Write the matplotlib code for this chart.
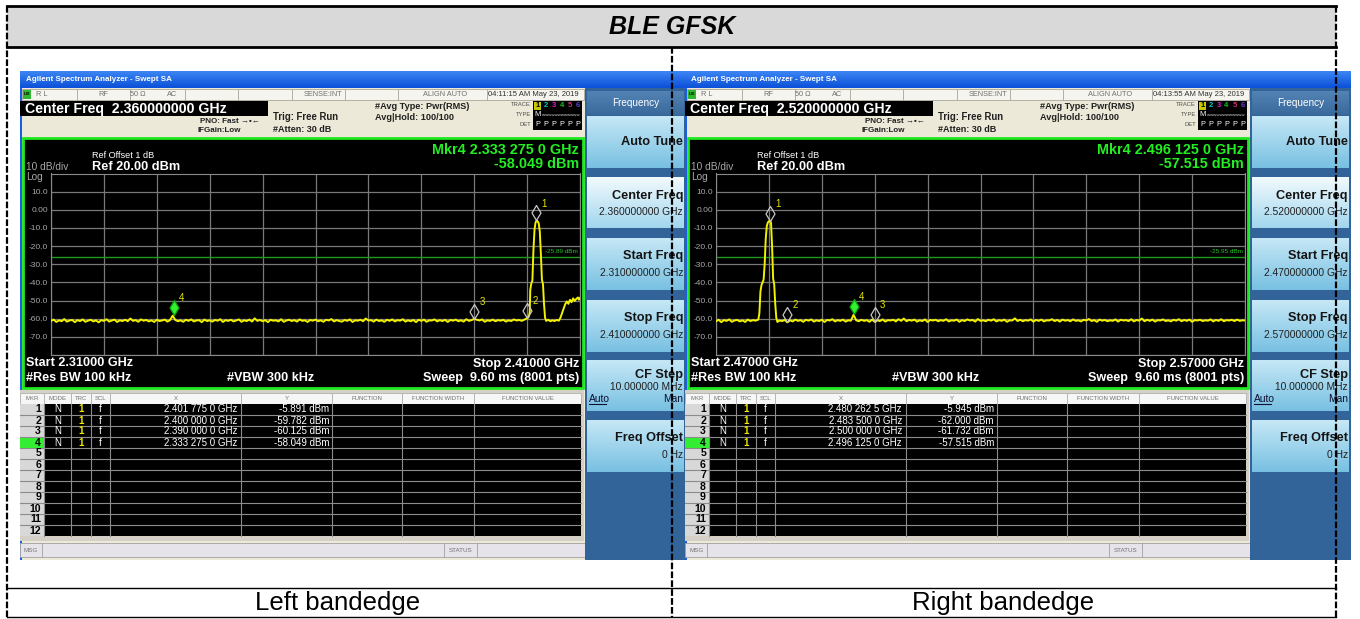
import numpy as np
import matplotlib
matplotlib.use("Agg")
import matplotlib.pyplot as plt
from matplotlib.patches import Rectangle
from matplotlib.path import Path
from matplotlib.colors import LinearSegmentedColormap

plt.rcParams['font.family'] = ['Liberation Sans', 'DejaVu Sans']

title = "BLE GFSK"
captions = ["Left bandedge", "Right bandedge"]

left_span = (2.310, 2.410)          # GHz
left_time = "04:11:15 AM May 23, 2019"
left_limit = -25.89                 # dBm display line
left_mkr_freq = [2.401775, 2.400000, 2.390000, 2.333275]
left_mkr_db = [-5.891, -59.782, -60.125, -58.049]
# noise floor 2.3100 .. 2.3995 GHz, one value per 0.5 MHz
left_floor_db = [
    -61.2, -60.5, -61.8, -60.9, -61.4, -60.2, -61.6, -61.0, -60.7, -61.9,
    -60.8, -61.3, -60.4, -61.7, -61.1, -60.6, -61.5, -60.9, -62.0, -60.8,
    -61.2, -60.3, -61.6, -61.0, -60.5, -61.8, -60.9, -61.3, -60.6, -61.4,
    -59.9, -61.2, -60.8, -61.7, -60.4, -61.1, -60.7, -61.5, -60.9, -61.8,
    -60.6, -61.3, -61.0, -60.5, -61.6, -60.8, -58.3, -60.7, -61.4, -60.9,
    -61.7, -60.6, -61.2, -60.4, -61.5, -61.0, -60.8, -61.9, -60.5, -61.3,
    -60.9, -61.6, -60.7, -61.1, -60.3, -61.8, -60.8, -61.2, -60.6, -61.5,
    -61.0, -60.4, -61.7, -60.9, -61.3, -60.5, -61.6, -59.8, -61.2, -60.7,
    -61.4, -60.8, -61.9, -60.6, -61.1, -60.9, -61.5, -60.3, -61.7, -61.0,
    -60.6, -61.3, -60.8, -61.6, -60.4, -61.2, -60.9, -61.8, -60.7, -61.1,
    -60.5, -61.4, -60.9, -61.7, -60.6, -61.0, -60.2, -61.5, -60.8, -61.3,
    -61.6, -60.7, -61.2, -60.4, -61.8, -60.9, -61.1, -60.6, -61.4, -59.9,
    -61.0, -60.8, -61.6, -60.5, -61.3, -60.9, -61.7, -60.6, -61.2, -60.4,
    -61.5, -60.8, -61.1, -60.3, -61.6, -60.9, -61.4, -60.7, -61.9, -60.6,
    -61.2, -60.5, -61.7, -60.9, -61.0, -60.4, -61.5, -60.8, -61.3, -60.6,
    -61.8, -60.7, -61.1, -60.5, -61.4, -60.9, -61.6, -60.3, -61.2, -60.8,
    -60.1, -60.6, -61.0, -60.4, -61.7, -60.9, -61.2, -60.5, -61.4, -60.8,
    -61.1, -60.6, -61.6, -60.9, -61.3, -60.4, -61.0, -60.7, -61.2, -60.5,
]
left_edge_freq = [2.4000, 2.4003, 2.4005, 2.4006, 2.4008, 2.4010, 2.4012, 2.4014,
                  2.4016, 2.4018, 2.4020, 2.4022, 2.4024, 2.4026, 2.4028, 2.4030,
                  2.4032, 2.4034, 2.4036, 2.4040, 2.4044, 2.4048, 2.4052, 2.4056,
                  2.4060, 2.4063, 2.4066, 2.4069, 2.4072, 2.4075, 2.4078, 2.4081,
                  2.4084, 2.4087, 2.4090, 2.4093, 2.4096, 2.4098, 2.4100]
left_edge_db = [-59.8, -59.0, -56.5, -44.0, -40.5, -39.0, -22.0, -11.0,
                -7.0, -5.9, -6.4, -7.5, -12.0, -24.0, -38.5, -41.0,
                -52.0, -59.5, -61.2, -60.6, -61.4, -60.9, -61.3, -60.7,
                -61.1, -59.5, -57.0, -54.5, -52.0, -50.5, -51.8, -49.6,
                -50.9, -48.8, -50.2, -49.1, -48.3, -49.5, -48.6]

right_span = (2.470, 2.570)
right_time = "04:13:55 AM May 23, 2019"
right_limit = -25.95
right_mkr_freq = [2.4802625, 2.4835, 2.5000, 2.496125]
right_mkr_db = [-5.945, -62.000, -61.732, -57.515]
# 2.4700 .. 2.4775 GHz
right_floor_lo_db = [-61.4, -60.6, -61.9, -60.8, -61.2, -60.4, -61.7, -61.0,
                     -60.7, -61.5, -60.9, -61.8, -60.5, -61.3, -60.8, -61.1]
right_edge_freq = [2.4780, 2.4782, 2.4784, 2.4786, 2.4788, 2.4790, 2.4792, 2.4794,
                   2.4796, 2.4798, 2.4800, 2.4802, 2.4804, 2.4806, 2.4808, 2.4810,
                   2.4812, 2.4814, 2.4816, 2.4820]
right_edge_db = [-60.5, -57.0, -45.0, -41.5, -40.0, -38.5, -30.0, -16.0,
                 -9.0, -7.0, -6.3, -5.95, -7.2, -20.0, -38.0, -41.0,
                 -52.0, -59.5, -61.8, -61.0]
# 2.4825 .. 2.5700 GHz
right_floor_hi_db = [
    -61.3, -60.7, -62.0, -60.9, -61.5, -60.5, -61.2, -60.8, -61.7, -60.6,
    -61.1, -60.4, -61.6, -60.9, -61.3, -60.6, -61.8, -60.7, -61.0, -60.3,
    -61.5, -60.8, -61.2, -60.5, -61.6, -60.9, -61.1, -57.8, -60.9, -61.4,
    -60.6, -61.2, -60.8, -61.7, -60.5, -61.7, -60.9, -61.3, -60.4, -61.6,
    -60.8, -61.0, -60.6, -61.5, -60.3, -61.2, -59.9, -61.4, -60.7, -61.1,
    -60.5, -61.6, -60.9, -61.3, -60.4, -61.8, -60.7, -61.0, -60.6, -61.4,
    -60.8, -61.2, -60.3, -61.5, -60.9, -61.1, -60.5, -61.7, -60.8, -61.3,
    -60.4, -61.0, -60.7, -61.6, -60.2, -61.2, -60.9, -61.4, -60.6, -61.1,
    -60.3, -61.5, -60.8, -61.2, -60.5, -61.7, -60.9, -61.0, -59.8, -61.3,
    -60.6, -61.4, -60.8, -61.1, -60.4, -61.6, -60.7, -61.2, -60.5, -61.5,
    -60.9, -61.0, -60.3, -61.3, -60.7, -61.6, -60.5, -61.1, -60.8, -61.4,
    -60.4, -61.2, -60.9, -61.5, -60.6, -61.0, -60.2, -61.3, -60.8, -61.7,
    -60.5, -61.1, -60.7, -61.4, -60.9, -61.2, -60.4, -61.6, -60.6, -61.0,
    -60.8, -61.3, -60.3, -61.5, -60.7, -61.1, -59.9, -61.4, -60.6, -61.2,
    -60.5, -61.6, -60.8, -61.0, -60.4, -61.3, -60.9, -61.5, -60.6, -61.1,
    -60.3, -61.4, -60.7, -61.2, -60.5, -61.7, -60.8, -61.0, -60.6, -61.3,
    -60.9, -61.1, -60.4, -61.5, -60.7, -61.2, -60.3, -61.4, -60.8, -61.0,
    -60.6, -61.3, -60.5, -61.2, -60.9, -61.0,
]

left_f = np.concatenate([2.310 + 0.0005 * np.arange(len(left_floor_db)), left_edge_freq])
left_db = np.concatenate([left_floor_db, left_edge_db])
right_f = np.concatenate([2.470 + 0.0005 * np.arange(len(right_floor_lo_db)), right_edge_freq,
                          2.4825 + 0.0005 * np.arange(len(right_floor_hi_db))])
right_db = np.concatenate([right_floor_lo_db, right_edge_db, right_floor_hi_db])

W, H = 1360, 619
fig = plt.figure(figsize=(13.6, 6.19), dpi=100)
bg = fig.add_axes([0, 0, 1, 1])
bg.axis('off')


def box(x, y, w, h, fc, ec='none', lw=0, z=1):
    bg.add_patch(Rectangle((x, y), w, h, facecolor=fc, edgecolor=ec, linewidth=lw, zorder=z))


def txt(x, y, s, size=7, color='black', ha='left', weight='normal', z=5, **kw):
    bg.text(x, y, s, fontsize=size, color=color, ha=ha, va='center',
            fontweight=weight, zorder=z, **kw)


def gradient(x, y, w, h, c_top, c_bot, z=2):
    cmap = LinearSegmentedColormap.from_list('g', [c_top, c_bot])
    bg.imshow(np.linspace(0, 1, 64).reshape(-1, 1), cmap=cmap, aspect='auto',
              extent=[x, x + w, y + h, y], zorder=z, interpolation='bilinear')


def ghz_str(f):
    s = f"{f:.7f}"
    return s[:5] + " " + s[5:8] + " " + s[8:] + " GHz"


diamond = Path([(0, 0), (0.6, 1), (0, 2), (-0.6, 1), (0, 0)],
               [Path.MOVETO, Path.LINETO, Path.LINETO, Path.LINETO, Path.CLOSEPOLY])


def draw_screen(ox, span, time_s, limit, mkr_f, mkr_db, f, db):
    start, stop = span
    center = (start + stop) / 2

    def X(x):
        return x + ox

    # window + title bar
    box(X(20), 71, 666, 489, '#ece9d8')
    gradient(X(20), 71, 666, 17, '#3d86f4', '#0b50d8')
    txt(X(26), 79.5, "Agilent Spectrum Analyzer - Swept SA", 5.8, 'white', weight='bold', z=4)
    box(X(20), 88, 2, 472, '#1a5ee6', z=2)

    # status row
    box(X(22), 89, 562, 11, '#f6f4ee', ec='#a8a498', lw=0.6, z=2)
    for sx in [77, 130, 185, 238, 292, 345, 398, 487]:
        bg.plot([X(sx), X(sx)], [89, 100], color='#a8a498', lw=0.6, zorder=3)
    box(X(22.5), 90, 8, 8.5, '#2fb52f', z=3)
    txt(X(26.5), 94.3, "LXI", 3, 'black', ha='center', weight='bold')
    for s, x, ha in [("R L", 36, 'left'), ("RF", 103, 'center'), ("50 Ω", 138, 'center'),
                     ("AC", 172, 'center'), ("SENSE:INT", 323, 'center'),
                     ("ALIGN AUTO", 445, 'center')]:
        txt(X(x), 94.5, s, 5.3, '#707070', ha=ha)
    txt(X(488), 94.5, time_s, 5.5, '#303030')

    # settings area
    box(X(20), 101, 248, 15, 'black', z=2)
    txt(X(25), 108.7, f"Center Freq  {center:.9f} GHz", 10.2, 'white', weight='bold')
    txt(X(200), 121.5, "PNO: Fast →•←", 5.8, '#202020', weight='bold')
    txt(X(197), 131, "IFGain:Low", 5.8, '#202020', weight='bold')
    txt(X(273), 117.5, "Trig: Free Run", 6.9, '#202020', weight='bold')
    txt(X(273), 129.5, "#Atten: 30 dB", 6.5, '#202020', weight='bold')
    txt(X(375), 106.5, "#Avg Type: Pwr(RMS)", 6.6, '#202020', weight='bold')
    txt(X(375), 117.5, "Avg|Hold: 100/100", 6.6, '#202020', weight='bold')
    for s, y in [("TRACE", 105), ("TYPE", 114.5), ("DET", 124)]:
        txt(X(531), y, s, 4.2, '#505050', ha='right')
    box(X(533), 101, 49, 29, 'black', z=2)
    trace_cols = ['black', '#00c8c8', '#d020d0', '#20c020', '#d03070', '#6040d0']
    for k in range(6):
        xk = X(537.5 + k * 8)
        if k == 0:
            box(xk - 3.5, 101.5, 7, 8, '#c8c800', z=3)
        txt(xk, 105.5, str(k + 1), 5.5, trace_cols[k], ha='center', weight='bold')
        txt(xk, 124.5, "P", 5.3, 'white', ha='center')
    txt(X(537.5), 115, "M", 5.5, 'white', ha='center')
    txt(X(542), 115, "wwwwwwwwwwww", 3.2, '#d0d0d0')

    # graticule frame
    box(X(23), 138, 560, 250, 'black', ec='#1ee81e', lw=2, z=2)
    txt(X(26), 166.7, "10 dB/div", 7.3, '#a8a8a8')
    txt(X(26), 176.5, "Log", 7.3, '#a8a8a8')
    txt(X(92), 155.7, "Ref Offset 1 dB", 6.6, 'white')
    txt(X(92), 166.7, "Ref 20.00 dBm", 9.2, 'white', weight='bold')
    txt(X(579), 149.5, "Mkr4 " + ghz_str(mkr_f[3]), 10.4, '#22ee22', ha='right', weight='bold')
    txt(X(579), 163.5, f"{mkr_db[3]:.3f} dBm", 10.4, '#22ee22', ha='right', weight='bold')
    txt(X(26), 363.5, f"Start {start:.5f} GHz", 9.1, 'white', weight='bold')
    txt(X(26), 378, "#Res BW 100 kHz", 9.1, 'white', weight='bold')
    txt(X(227), 378, "#VBW 300 kHz", 9.1, 'white', weight='bold')
    txt(X(579), 363.5, f"Stop {stop:.5f} GHz", 9.1, 'white', ha='right', weight='bold')
    txt(X(579), 378, "Sweep  9.60 ms (8001 pts)", 9.1, 'white', ha='right', weight='bold')

    # trace
    ax = fig.add_axes([X(51) / W, 1 - 355 / H, 529 / W, 181.5 / H])
    ax.set_facecolor('black')
    ax.set_xlim(start, stop)
    ax.set_ylim(-80, 20)
    ax.set_xticks(np.linspace(start, stop, 11))
    yt = np.arange(-80, 21, 10)
    ax.set_yticks(yt)
    ax.set_yticklabels(['' if v in (-80, 20) else ('0.00' if v == 0 else f"{v:.1f}") for v in yt])
    ax.tick_params(axis='x', length=0, labelbottom=False)
    ax.tick_params(axis='y', length=0, pad=2, labelsize=6, labelcolor='#a8a8a8')
    ax.grid(True, color='#787878', lw=0.9)
    ax.set_axisbelow(True)
    for sp in ax.spines.values():
        sp.set_color('#8a8a8a')
    ax.axhline(limit, color='#1c9a1c', lw=1, zorder=2)
    ax.annotate(f"{limit:.2f} dBm", xy=(stop, limit), xytext=(-1.5, 2), textcoords='offset points',
                ha='right', va='bottom', fontsize=4.6, color='#22c822')
    ax.plot(f, db, color='#f2f200', lw=1.4, zorder=3)
    for i, (mf, md) in enumerate(zip(mkr_f, mkr_db)):
        active = i == 3
        ax.plot([mf], [md], marker=diamond, markersize=21.6, linestyle='none',
                markerfacecolor='#30f030' if active else 'none',
                markeredgecolor='#10a010' if active else '#c8c8c8',
                markeredgewidth=0.9, zorder=4, clip_on=False)
        ax.annotate(str(i + 1), xy=(mf, md), xytext=(5.6, 12.2), textcoords='offset points',
                    ha='center', va='center', fontsize=7, color='#e8e800', zorder=5)

    # marker table
    box(X(20), 390, 564, 151, '#d4d0c8', z=2)
    cols = [20, 44, 71, 91, 110, 241, 332, 402, 474, 581]
    heads = ["MKR", "MODE", "TRC", "SCL", "X", "Y", "FUNCTION", "FUNCTION WIDTH", "FUNCTION VALUE"]
    for i, hd in enumerate(heads):
        box(X(cols[i]), 393, cols[i + 1] - cols[i], 11, '#f6f6f6', ec='#b0b0b0', lw=0.6, z=3)
        txt(X((cols[i] + cols[i + 1]) / 2), 398.7, hd, 4.3, '#707070', ha='center')
    box(X(44), 404, 537, 132, 'black', z=3)
    box(X(20), 404, 24, 132, '#d8d8d8', z=3)
    box(X(20), 437, 24, 11, '#33ee33', z=3)
    for r in range(1, 12):
        bg.plot([X(20), X(581)], [404 + 11 * r] * 2, color='#8c8c8c', lw=0.8, zorder=4)
    for cx in cols[1:-1]:
        bg.plot([X(cx), X(cx)], [404, 536], color='#8c8c8c', lw=0.8, zorder=4)
    for r in range(12):
        yc = 404 + 11 * (r + 0.5)
        txt(X(41), yc, str(r + 1), 7.6, 'black', ha='right', weight='bold')
        if r < 4:
            txt(X(57.5), yc, "N", 7, 'white', ha='center')
            txt(X(81), yc, "1", 7, '#f0e800', ha='center', weight='bold')
            txt(X(100.5), yc, "f", 7, 'white', ha='center')
            txt(X(237), yc, ghz_str(mkr_f[r]), 7, 'white', ha='right')
            txt(X(329), yc, f"{mkr_db[r]:.3f} dBm", 7, 'white', ha='right')

    # message bar
    box(X(20), 543, 565, 14, '#e6e4ea', ec='#a0a0a0', lw=0.6, z=2)
    for sx in [42, 444, 477]:
        bg.plot([X(sx), X(sx)], [543, 557], color='#a0a0a0', lw=0.6, zorder=3)
    txt(X(24), 550, "MSG", 4.5, '#707070')
    txt(X(460.5), 550, "STATUS", 4.5, '#707070', ha='center')

    # soft keys
    box(X(585), 88, 101, 472, '#32649a', z=2)
    gradient(X(587), 91, 97, 24, '#5383b4', '#3a6a9c', z=3)
    txt(X(635.5), 102.5, "Frequency", 7.2, 'white', ha='center')
    keys = [("Auto Tune", None, 116, 168), ("Center Freq", f"{center:.9f} GHz", 177, 228),
            ("Start Freq", f"{start:.9f} GHz", 238, 290), ("Stop Freq", f"{stop:.9f} GHz", 300, 352),
            ("CF Step", "10.000000 MHz", 360, 411), ("Freq Offset", "0 Hz", 420, 472)]
    for lab, val, y0, y1 in keys:
        top = '#f2fafd' if lab == "Center Freq" else '#c6e8f6'
        bot = '#a2d6ee' if lab == "Center Freq" else '#78c0e2'
        gradient(X(587), y0, 97, y1 - y0, top, bot, z=3)
        if val is None:
            txt(X(683), (y0 + y1) / 2, lab, 9.2, '#151515', ha='right', weight='bold')
        elif lab == "CF Step":
            txt(X(683), y0 + 15, lab, 9.2, '#151515', ha='right', weight='bold')
            txt(X(683), y0 + 26.5, val, 7.4, '#202020', ha='right')
            txt(X(588.5), 398.5, "Auto", 7.4, '#101030')
            bg.plot([X(588.5), X(606)], [403.5, 403.5], color='#101030', lw=0.8, zorder=5)
            txt(X(683), 398.5, "Man", 7.4, '#101030', ha='right')
        else:
            txt(X(683), y0 + 18.5, lab, 9.2, '#151515', ha='right', weight='bold')
            txt(X(683), y0 + 35, val, 7.4, '#202020', ha='right')


draw_screen(0, left_span, left_time, left_limit, left_mkr_freq, left_mkr_db, left_f, left_db)
draw_screen(665, right_span, right_time, right_limit, right_mkr_freq, right_mkr_db, right_f, right_db)

# table frame around the screenshots
box(7, 6, 1329, 41, '#d9d9d9', z=0.5)
txt(672, 27, title, 18, 'black', ha='center', weight='bold', style='italic')
txt(338, 603, captions[0], 18.5, 'black', ha='center')
txt(1003, 603, captions[1], 18.5, 'black', ha='center')

ov = fig.add_axes([0, 0, 1, 1], zorder=5)
ov.axis('off')
ov.patch.set_alpha(0)
ov.set_xlim(0, W)
ov.set_ylim(H, 0)
ov.plot([7, 1336], [6, 6], color='black', lw=2)
ov.plot([7, 1336], [47, 47], color='black', lw=2)
ov.plot([7, 1336], [588, 588], color='black', lw=1)
ov.plot([7, 1336], [617, 617], color='black', lw=1)
for vx, y0 in [(7, 6), (672, 47), (1336, 6)]:
    ov.plot([vx, vx], [y0, 617], color='black', lw=1.6, linestyle=(0, (3, 1)))

bg.set_xlim(0, W)
bg.set_ylim(H, 0)
fig.savefig('out.png', dpi=100)
